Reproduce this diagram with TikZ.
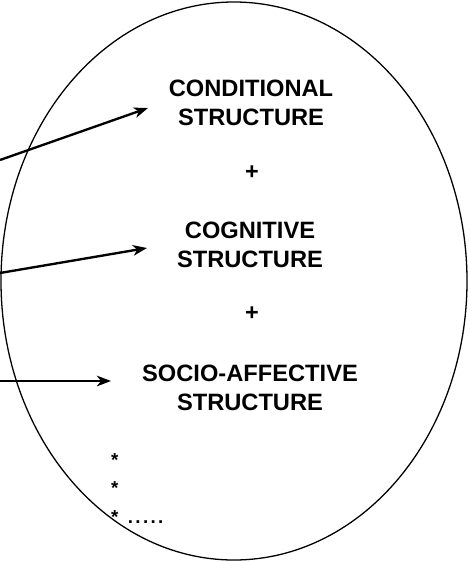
\documentclass[tikz,border=0pt]{standalone}
\usepackage{fontspec}
\setmainfont{Liberation Sans}
\usetikzlibrary{arrows.meta}

\begin{document}
\begin{tikzpicture}[x=0.03cm, y=-0.03cm,
        struct/.style={font=\bfseries\fontsize{20.2}{24.7}\selectfont, align=center},
        plus/.style={font=\bfseries\fontsize{20}{22}\selectfont},
        etc/.style={font=\bfseries\fontsize{16}{18}\selectfont, anchor=base west, inner sep=0pt},
        feed/.style={-{Stealth[length=12pt, width=9pt, inset=3.5pt]}, line width=2pt}]
        \useasboundingbox (0,0) rectangle (469,562);
        \draw[line width=1.1pt] (234,281) ellipse (233 and 279);
        \node[struct] (cond) at (251,103) {CONDITIONAL\\STRUCTURE};
        \node[plus] (plus1) at (252,173) {+};
        \node[struct] (cogn) at (250,245) {COGNITIVE\\STRUCTURE};
        \node[plus] (plus2) at (252,314) {+};
        \node[struct] (socio) at (250,388) {SOCIO-AFFECTIVE\\STRUCTURE};
        \node[etc] (star1) at (111,466) {*};
        \node[etc] (star2) at (111,494) {*};
        \node[etc] (star3) at (111,523) {*\hspace{8pt}.\kern2pt.\kern2pt.\kern2pt.\kern2pt.};
        % arrows coming in from the left
        \coordinate (in1) at (0,160);
        \coordinate (in2) at (0,273);
        \coordinate (in3) at (0,381);
        \coordinate (to1) at (148,108);
        \coordinate (to2) at (147,248);
        \coordinate (to3) at (111,381);
        \draw[feed] (in1) -- (to1);
        \draw[feed] (in2) -- (to2);
        \draw[feed] (in3) -- (to3);
\end{tikzpicture}
\end{document}
